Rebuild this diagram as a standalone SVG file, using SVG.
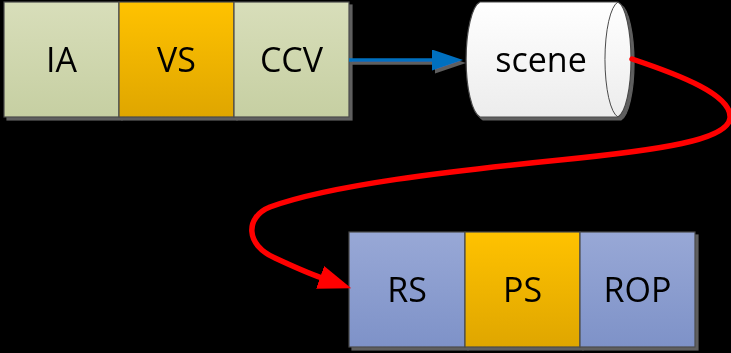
<svg xmlns="http://www.w3.org/2000/svg" width="731" height="353" viewBox="0 0 731 353">
  <defs>
    <linearGradient id="gGreen" x1="0" y1="0" x2="0" y2="1">
      <stop offset="0" stop-color="#D8DEBA"/>
      <stop offset="1" stop-color="#C6CFA2"/>
    </linearGradient>
    <linearGradient id="gGold" x1="0" y1="0" x2="0" y2="1">
      <stop offset="0" stop-color="#FFC200"/>
      <stop offset="1" stop-color="#DFA600"/>
    </linearGradient>
    <linearGradient id="gBlue" x1="0" y1="0" x2="0" y2="1">
      <stop offset="0" stop-color="#98A8D6"/>
      <stop offset="1" stop-color="#7E92C8"/>
    </linearGradient>
    <linearGradient id="gWhite" x1="0" y1="0" x2="0" y2="1">
      <stop offset="0" stop-color="#FFFFFF"/>
      <stop offset="1" stop-color="#ECECEC"/>
    </linearGradient>
    <!-- hard drop shadow, offset down-right; user-space region so thin lines keep it -->
    <filter id="shadow" filterUnits="userSpaceOnUse" x="0" y="0" width="731" height="353">
      <feFlood flood-color="#5E5E5E" result="c"/>
      <feComposite in="c" in2="SourceAlpha" operator="in" result="s"/>
      <feOffset in="s" dx="3" dy="3" result="o"/>
      <feMerge>
        <feMergeNode in="o"/>
        <feMergeNode in="SourceGraphic"/>
      </feMerge>
    </filter>
    <marker id="arrowBlue" markerUnits="userSpaceOnUse" markerWidth="34" markerHeight="24" refX="2" refY="10.5" orient="auto">
      <path d="M0,0 L31,10.5 L0,21 z" fill="#0070C0"/>
    </marker>
    <marker id="arrowRed" markerUnits="userSpaceOnUse" markerWidth="36" markerHeight="26" refX="2" refY="12" orient="auto">
      <path d="M0,0 L33,12 L0,24 z" fill="#FF0000"/>
    </marker>
  </defs>
  <style>
    .cell { stroke: #4A4A4A; stroke-width: 1.2; }
    .lbl { font-family: "Open Sans", "Liberation Sans", sans-serif; font-size: 34px; fill: #000; text-anchor: middle; }
  </style>

  <rect width="731" height="353" fill="#000"/>

  <!-- upper pipeline -->
  <g id="top-row" filter="url(#shadow)">
    <g id="IA">
      <rect class="cell" x="4" y="2" width="115" height="115" fill="url(#gGreen)"/>
      <text class="lbl" x="61.5" y="72">IA</text>
    </g>
    <g id="VS">
      <rect class="cell" x="119" y="2" width="115" height="115" fill="url(#gGold)"/>
      <text class="lbl" x="176.5" y="72">VS</text>
    </g>
    <g id="CCV">
      <rect class="cell" x="234" y="2" width="115" height="115" fill="url(#gGreen)"/>
      <text class="lbl" x="291.5" y="72">CCV</text>
    </g>
  </g>

  <!-- horizontal cylinder -->
  <g id="scene" filter="url(#shadow)">
    <path class="cell" d="M480,2 L618,2 A15,58 0 0 1 618,117 L480,117 A16,58 0 0 1 480,2 z" fill="url(#gWhite)"/>
    <path d="M618,2 A15,58 0 0 0 618,117" fill="none" stroke="#4A4A4A" stroke-width="1"/>
    <text class="lbl" x="541" y="72">scene</text>
  </g>

  <!-- lower pipeline -->
  <g id="bottom-row" filter="url(#shadow)">
    <g id="RS">
      <rect class="cell" x="349" y="232" width="116" height="115" fill="url(#gBlue)"/>
      <text class="lbl" x="407" y="302">RS</text>
    </g>
    <g id="PS">
      <rect class="cell" x="465" y="232" width="115" height="115" fill="url(#gGold)"/>
      <text class="lbl" x="522.5" y="302">PS</text>
    </g>
    <g id="ROP">
      <rect class="cell" x="580" y="232" width="115" height="115" fill="url(#gBlue)"/>
      <text class="lbl" x="637.5" y="302">ROP</text>
    </g>
  </g>

  <!-- connectors -->
  <g id="connectors" fill="none">
    <g filter="url(#shadow)">
      <path d="M349,60 L434,60" stroke="#0070C0" stroke-width="3.5" marker-end="url(#arrowBlue)"/>
    </g>
    <path d="M632,59 C680,75 732,95 730,118 C728,140 660,150 560,160 C450,171 330,185 270,207 C245,217 245,245 275,258 C290,265 305,272 322,278" stroke="#FF0000" stroke-width="5.5" stroke-linecap="round" marker-end="url(#arrowRed)"/>
  </g>
</svg>
